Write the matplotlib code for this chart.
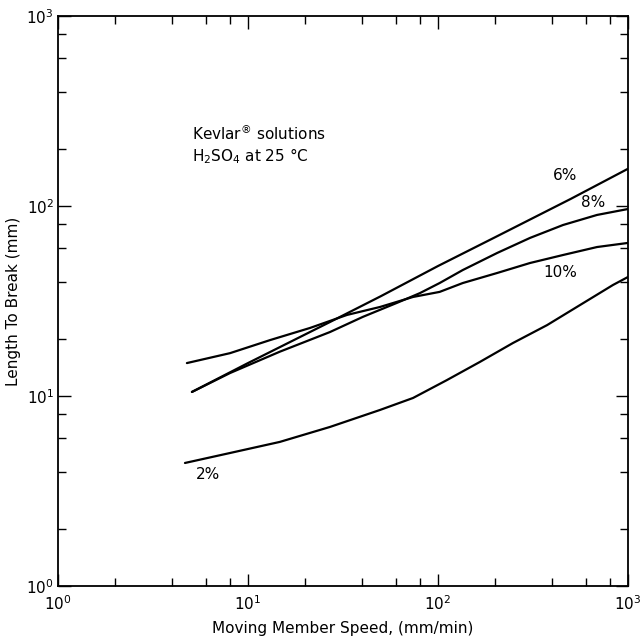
"""
Length to break vs. moving member speed for Kevlar solutions in H2SO4.
Log-log line chart, redrawn from a scanned figure.
"""

import matplotlib
matplotlib.use('Agg')
import matplotlib.pyplot as plt
from matplotlib.ticker import LogLocator, NullFormatter

# Curves: (speed mm/min, length to break mm)
speed_6 = [5.07, 10, 27.0, 50, 100, 200, 500, 1000]
length_6 = [10.5, 14.9, 24.5, 33.5, 48.3, 68.5, 109, 157]

speed_8 = [5.07, 8.04, 14.7, 27.0, 40.3, 60.8, 80.4, 102, 135, 205, 305, 455, 687, 1000]
length_8 = [10.5, 13.2, 17.1, 21.7, 26.1, 30.9, 34.8, 39.3, 46.0, 56.6, 67.9, 79.4, 89.7, 96.4]

speed_10 = [4.77, 8.04, 13.1, 21.2, 33.2, 49.5, 73.9, 102, 135, 205, 305, 455, 687, 1000]
length_10 = [14.9, 16.8, 19.7, 22.8, 26.7, 29.4, 33.2, 35.3, 39.3, 44.4, 50.1, 55.2, 60.8, 63.9]

speed_2 = [4.66, 8.04, 14.7, 27.0, 49.5, 73.9, 111, 166, 248, 375, 559, 834, 1000]
length_2 = [4.44, 5.01, 5.73, 6.87, 8.44, 9.76, 12.1, 15.1, 19.0, 23.6, 30.1, 38.4, 42.3]

series = [
    (speed_6, length_6),
    (speed_8, length_8),
    (speed_10, length_10),
    (speed_2, length_2),
]

# Curve labels and where they sit (data coords)
curve_labels = ['6%', '8%', '10%', '2%']
label_x = [466, 654, 439, 6.16]
label_y = [145, 104, 44.4, 3.84]

plt.rcParams['font.family'] = ['DejaVu Sans']
plt.rcParams['mathtext.default'] = 'regular'

fig = plt.figure(figsize=(6.42, 6.44), dpi=100)
ax = fig.add_axes([0.0903, 0.0901, 0.8879, 0.8851])

for xs, ys in series:
    ax.plot(xs, ys, color='black', linewidth=1.6,
            solid_capstyle='round', solid_joinstyle='round')

for text, tx, ty in zip(curve_labels, label_x, label_y):
    ax.text(tx, ty, text, fontsize=11, ha='center', va='center')

ax.text(0.235, 0.782, r'Kevlar$^{\circledR}$ solutions', transform=ax.transAxes,
        fontsize=11, ha='left', va='baseline')
ax.text(0.235, 0.745, r'H$_2$SO$_4$ at 25 °C', transform=ax.transAxes,
        fontsize=11, ha='left', va='baseline')

ax.set_xscale('log')
ax.set_yscale('log')
ax.set_xlim(1, 1000)
ax.set_ylim(1, 1000)

ax.xaxis.set_major_locator(LogLocator(base=10, numticks=10))
ax.yaxis.set_major_locator(LogLocator(base=10, numticks=10))
ax.xaxis.set_minor_locator(LogLocator(base=10, subs=(2, 4, 6, 8), numticks=10))
ax.yaxis.set_minor_locator(LogLocator(base=10, subs=(2, 4, 6, 8), numticks=10))
ax.xaxis.set_minor_formatter(NullFormatter())
ax.yaxis.set_minor_formatter(NullFormatter())

ax.tick_params(which='both', direction='in', top=True, right=True,
               labelsize=11, width=1.0)
ax.tick_params(which='major', length=9)
ax.tick_params(which='minor', length=6)
ax.tick_params(axis='x', pad=6)
ax.tick_params(axis='y', pad=3)

for spine in ax.spines.values():
    spine.set_linewidth(1.3)

ax.set_xlabel('Moving Member Speed, (mm/min)', fontsize=11, labelpad=6)
ax.set_ylabel('Length To Break (mm)', fontsize=11, labelpad=4)

fig.savefig('out.png', dpi=100)
plt.close(fig)
